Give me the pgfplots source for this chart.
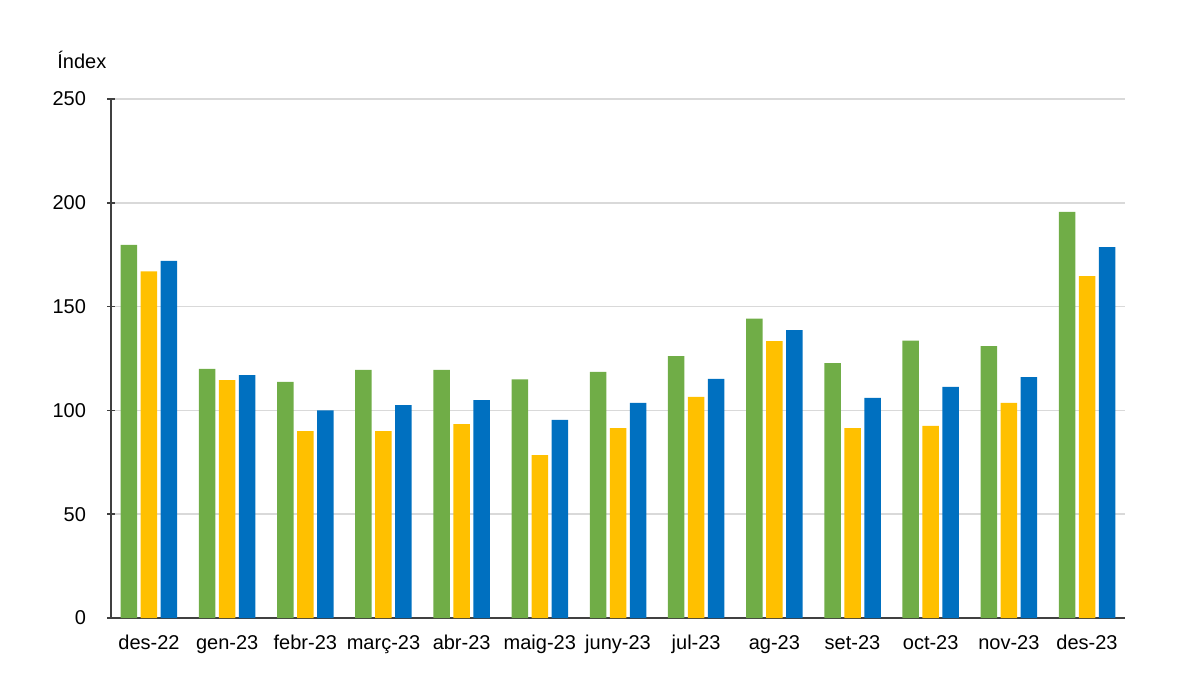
\documentclass[border=0pt]{standalone}
\usepackage{fontspec}
\setmainfont{Liberation Sans}
\usepackage{pgfplots}
\pgfplotsset{compat=1.18}
\definecolor{cgreen}{HTML}{70AD47}
\definecolor{cyellow}{HTML}{FFC000}
\definecolor{cblue}{HTML}{0070C0}
\definecolor{cgrid}{HTML}{D9D9D9}
\definecolor{caxis}{HTML}{404040}
\begin{document}
\begin{tikzpicture}
\path[use as bounding box] (-55.5pt,-28.5pt) rectangle (544.5pt,309pt);
\begin{axis}[
  at={(0pt,0pt)}, anchor=south west,
  scale only axis, width=507pt, height=259.5pt,
  font=\fontsize{10}{12}\selectfont,
  /pgf/number format/assume math mode=true,
  ybar=1.75pt, bar width=8.25pt,
  xmin=-0.486, xmax=12.486,
  ymin=0, ymax=250,
  ytick={0,50,100,150,200,250},
  xtick={0,...,12},
  xticklabels={des-22,gen-23,febr-23,març-23,abr-23,maig-23,juny-23,jul-23,ag-23,set-23,oct-23,nov-23,des-23},
  axis x line*=bottom, axis y line*=left,
  axis line style={caxis, line width=0.9pt, -},
  ymajorgrids, grid style={cgrid, line width=0.9pt},
  xtick style={draw=none},
  ytick style={caxis, line width=0.8pt},
  tick align=center, major tick length=4pt,
  yticklabel style={xshift=-7pt},
  xticklabel style={yshift=-3pt},
  tick label style={text=black},
  enlarge x limits=false,
  clip=false,
]
\addplot[fill=cgreen, draw=none] coordinates {(0,179.7) (1,120) (2,113.7) (3,119.5) (4,119.5) (5,115) (6,118.5) (7,126.2) (8,144.2) (9,122.8) (10,133.6) (11,131) (12,195.6)};
\addplot[fill=cyellow, draw=none] coordinates {(0,167) (1,114.6) (2,90) (3,90) (4,93.4) (5,78.5) (6,91.5) (7,106.5) (8,133.4) (9,91.5) (10,92.5) (11,103.6) (12,164.7)};
\addplot[fill=cblue, draw=none] coordinates {(0,172) (1,117) (2,100) (3,102.6) (4,105) (5,95.4) (6,103.6) (7,115.2) (8,138.7) (9,106) (10,111.3) (11,116) (12,178.7)};
\end{axis}
\node[anchor=west, font=\fontsize{10}{12}\selectfont, inner sep=0pt] at (-27pt,279pt) {Índex};
\end{tikzpicture}
\end{document}
